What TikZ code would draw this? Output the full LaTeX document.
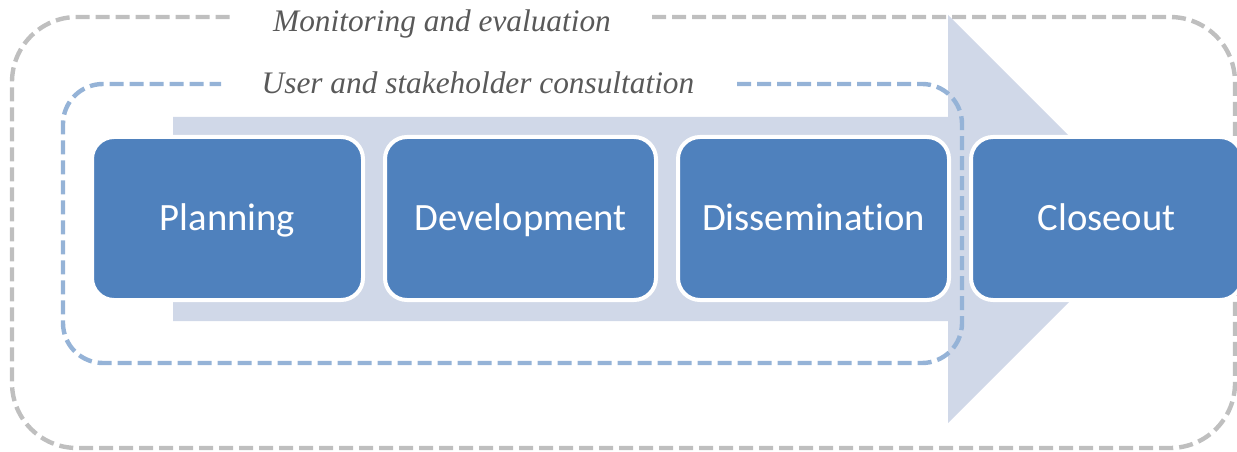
\documentclass[tikz,border=0pt]{standalone}
\usepackage{fontspec}
\setmainfont{Carlito}[Ligatures=NoCommon]
\newfontfamily\noteserif{Liberation Serif}
\definecolor{stageblue}{HTML}{4F81BD}
\definecolor{arrowgray}{HTML}{D0D8E8}
\definecolor{consultblue}{HTML}{95B3D7}
\definecolor{monitorgray}{HTML}{BFBFBF}
\definecolor{notegray}{HTML}{595959}
\tikzset{
	stagebox/.style={draw=white, line width=3pt, fill=stageblue, rounded corners=16.5pt,
		minimum width=203.25pt, minimum height=122.25pt, text=white, text height=18pt, text depth=0pt,
		font=\fontsize{29}{34}\selectfont},
	looplabel/.style={anchor=base, text=notegray, font=\noteserif\itshape\fontsize{23.5}{28}\selectfont},
	loopline/.style={line width=3.3pt, dash pattern=on 10.5pt off 4.5pt}
}
\begin{document}
\begin{tikzpicture}[x=0.75pt, y=-0.75pt]
		\useasboundingbox (0,0) rectangle (1237,452);
		\draw[loopline, monitorgray, rounded corners=48.75pt] (652,17) -- (1235,17) -- (1235,448) -- (12,448) -- (12,17) -- (235,17);
		\node[looplabel] (monitor) at (442,32) {Monitoring and evaluation};
		\fill[arrowgray] (173,117) -- (948,117) -- (948,15) -- (1152,219) -- (948,423) -- (948,321) -- (173,321) -- cycle;
		\draw[loopline, consultblue, rounded corners=30pt] (737,84) -- (962,84) -- (962,363) -- (63,363) -- (63,84) -- (221,84);
		\node[looplabel] (consult) at (478,94) {User and stakeholder consultation};
		\foreach \name/\txt [count=\i from 0] in {plan/Planning, dev/Development, dis/Dissemination, close/Closeout} {
			\node[stagebox] (\name) at (227.5+293*\i,218.5) {\txt};
		}
	\end{tikzpicture}
\end{document}
